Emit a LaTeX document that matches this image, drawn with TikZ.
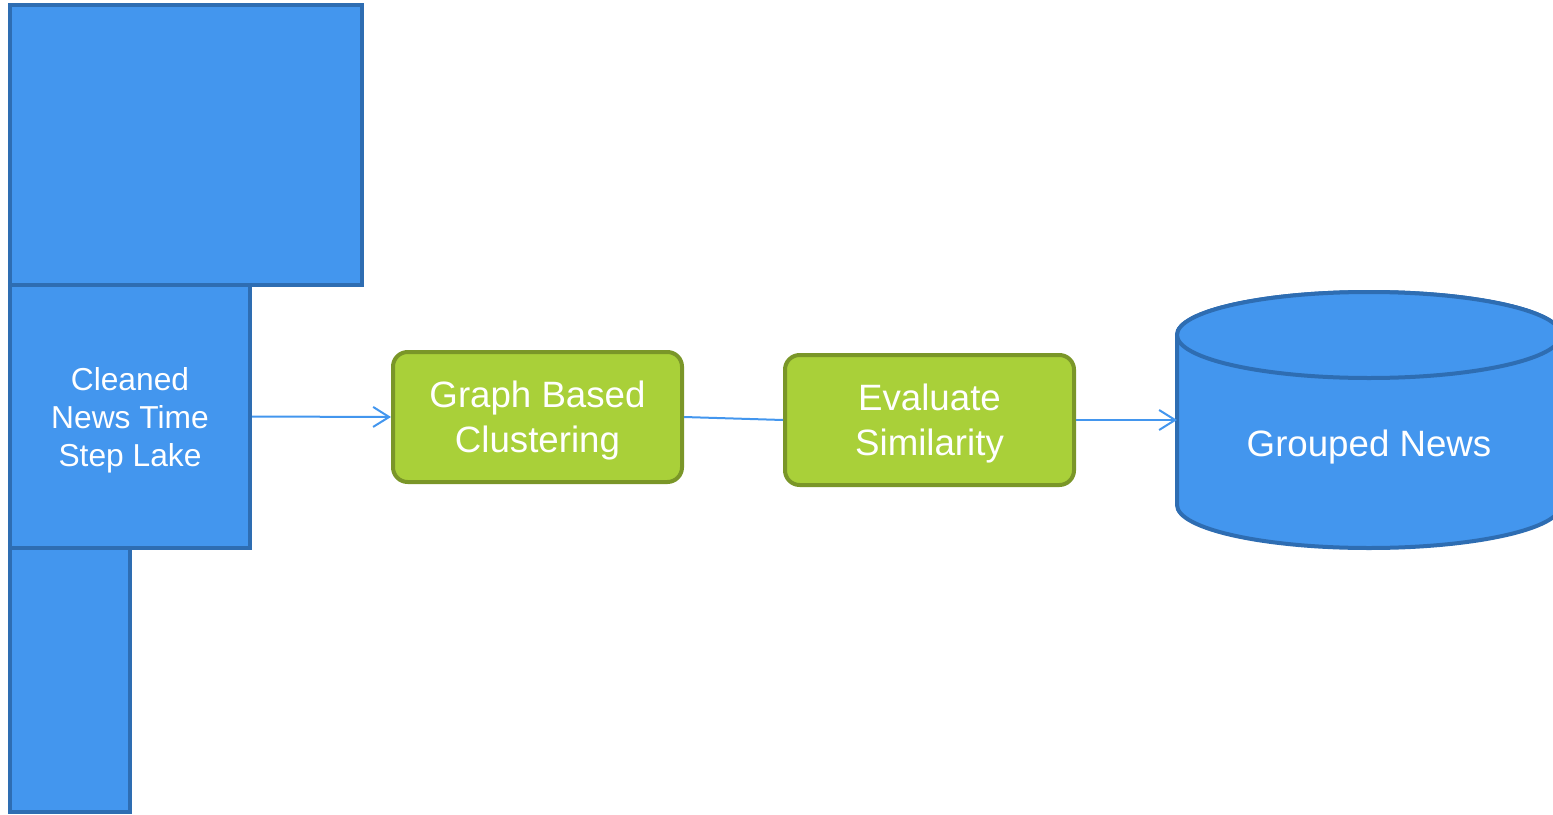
\documentclass[tikz,border=0pt]{standalone}
\usepackage{fontspec}
\setmainfont{Liberation Sans}
\usetikzlibrary{arrows.meta}

\definecolor{lakeblue}{RGB}{67,150,238}
\definecolor{lakeedge}{RGB}{46,109,178}
\definecolor{taskgreen}{RGB}{169,208,57}
\definecolor{taskedge}{RGB}{122,150,40}

\begin{document}
\begin{tikzpicture}[x=0.75pt, y=-0.75pt, >={Straight Barb[length=12pt,width=15pt]},
  lake box/.style={draw=lakeedge, fill=lakeblue, line width=3pt, text=white,
    align=center, inner sep=0pt, text depth=-2.5pt,
    font=\fontsize{23.8}{28.5}\selectfont},
  task box/.style={draw=taskedge, fill=taskgreen, line width=3pt, rounded corners=11pt,
    text=white, align=center, minimum width=216.75pt, minimum height=97.5pt,
    text depth=-1.5pt, font=\fontsize{27.5}{33.5}\selectfont},
  link/.style={draw=lakeblue, line width=1.5pt}]

\clip (0,0) rectangle (1553,814);

% time step lake blocks
\node [lake box, minimum width=264pt, minimum height=210pt] (lake-top) at (186,145) {};
\node [lake box, minimum width=90pt, minimum height=198pt] (lake-bottom) at (70,680) {};
\node [lake box, minimum width=180pt, minimum height=197.25pt] (lake) at (130,416.5)
  {Cleaned\\News Time\\Step Lake};

% processing steps
\node [task box] (cluster) at (537.5,417) {Graph Based\\Clustering};
\node [task box] (similarity) at (929.5,420) {Evaluate\\Similarity};

% grouped news store
\draw [lakeedge, fill=lakeblue, line width=3pt] (1177,335) -- (1177,505)
  arc [start angle=180, end angle=360, x radius=144pt, y radius=32.25pt] -- (1561,335)
  arc [start angle=0, end angle=180, x radius=144pt, y radius=32.25pt] -- cycle;
\draw [lakeedge, fill=lakeblue, line width=3pt] (1369,335)
  ellipse [x radius=144pt, y radius=32.25pt];
\node [text=white, font=\fontsize{27.5}{33.5}\selectfont] (news) at (1369,447) {Grouped News};
\coordinate (news-in) at (1177,420);

% connections
\draw [link, ->] (lake.east) -- (cluster.west);
\draw [link] (cluster.east) -- (similarity.west);
\draw [link, ->] (similarity.east) -- (news-in);

\end{tikzpicture}
\end{document}
